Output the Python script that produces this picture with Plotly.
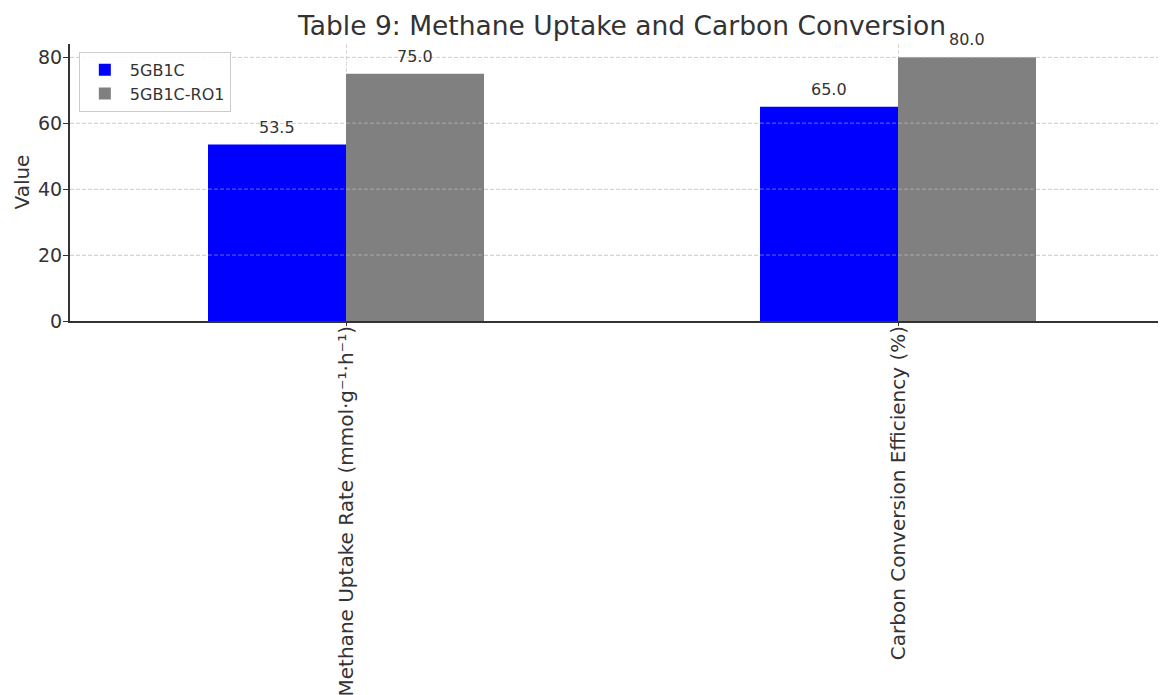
import plotly.graph_objects as go

categories = ["Methane Uptake Rate (mmol·g⁻¹·h⁻¹)", "Carbon Conversion Efficiency (%)"]
series_names = ["5GB1C", "5GB1C-RO1"]
values_5gb1c = [53.5, 65.0]
values_ro1 = [75.0, 80.0]
y_ticks = [0, 20, 40, 60, 80]

colors = ["#0000ff", "#808080"]
FONT = "DejaVu Sans"
TXT = "#333333"
GRID = "#d6d6d6"

fig = go.Figure()
for name, vals, col in zip(series_names, [values_5gb1c, values_ro1], colors):
    fig.add_trace(go.Bar(name=name, x=categories, y=vals, marker=dict(color=col, line=dict(width=0))))

# value labels above bars
annotations = []
for k, vals in enumerate([values_5gb1c, values_ro1]):
    for cat, v in zip(categories, vals):
        annotations.append(dict(
            x=cat, y=v, xref="x", yref="y", text=f"{v:.1f}", showarrow=False,
            yanchor="bottom", yshift=6, xshift=(-69 if k == 0 else 69),
            font=dict(family=FONT, size=16, color=TXT)))

# y axis title
annotations.append(dict(x=0, xref="paper", xanchor="center", xshift=-49,
                        y=0.5, yref="paper", text="Value", textangle=-90, showarrow=False,
                        font=dict(family=FONT, size=20, color=TXT)))

shapes = []
for t in y_ticks[1:]:
    shapes.append(dict(type="line", xref="paper", x0=0, x1=1, yref="y", y0=t, y1=t,
                       line=dict(color="rgba(210,210,210,0.5)", width=1, dash="4px,2px"), layer="above"))

fig.update_layout(
    width=1166, height=695,
    margin=dict(l=62, r=0, t=36, b=382, autoexpand=False),
    paper_bgcolor="white", plot_bgcolor="white",
    barmode="group", bargap=0.5, bargroupgap=0,
    font=dict(family=FONT, size=17, color=TXT),
    title=dict(text="Table 9: Methane Uptake and Carbon Conversion", x=0.5, xref="paper",
               xanchor="center", y=0.988, yanchor="top",
               font=dict(family=FONT, size=26.5, color=TXT)),
    legend=dict(x=0.008, y=0.972, xanchor="left", yanchor="top",
                bgcolor="rgba(255,255,255,0.85)", bordercolor="#cccccc", borderwidth=1,
                font=dict(family=FONT, size=16, color=TXT), itemwidth=40),
    annotations=annotations,
    shapes=shapes,
)
fig.update_xaxes(range=[-0.5, 1.5], tickangle=-90, showline=True, linecolor="#333333", linewidth=2,
                 ticks="outside", ticklen=3, tickcolor="#333333", showgrid=True,
                 gridcolor=GRID, griddash="4px,2px", gridwidth=1, automargin=False,
                 ticklabelstandoff=-8,
                 tickfont=dict(family=FONT, size=20, color=TXT))
fig.update_yaxes(range=[0, 84], tickvals=y_ticks, showline=True, linecolor="#333333", linewidth=2,
                 ticks="outside", ticklen=5, tickcolor="#333333", showgrid=True,
                 gridcolor=GRID, griddash="4px,2px", gridwidth=1, zeroline=False, automargin=False,
                 ticklabelstandoff=-3,
                 tickfont=dict(family=FONT, size=19, color=TXT))

fig.write_html("out.html")
